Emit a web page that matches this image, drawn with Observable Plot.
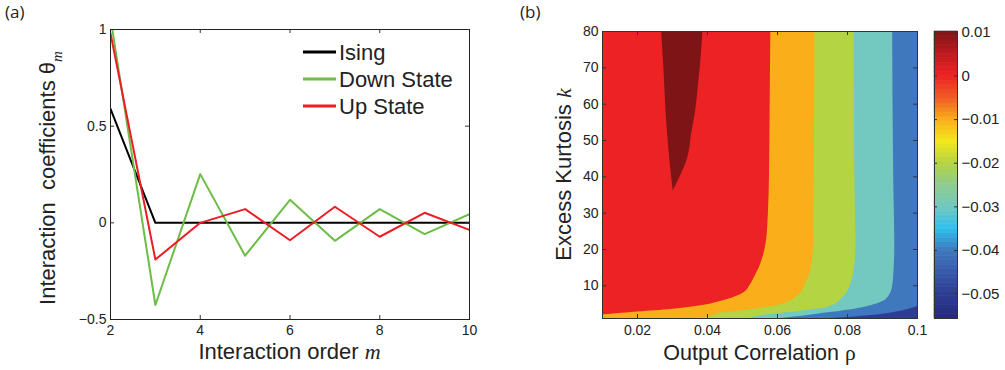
<!DOCTYPE html>
<html><head><meta charset="utf-8">
<script src="https://cdn.jsdelivr.net/npm/d3@7"></script>
<script src="https://cdn.jsdelivr.net/npm/@observablehq/plot@0.6"></script>
<style>
body{margin:0;background:#fff;}
#root{position:relative;width:1005px;height:370px;overflow:hidden;font-family:"Liberation Sans",Arial,sans-serif;background:#fff;}
.panel{position:absolute;top:0;}
.tag{position:absolute;top:0px;font-size:17px;color:#222;font-family:"Open Sans","Liberation Sans",sans-serif;}
</style></head><body>
<div id="root">
 <div class="tag" style="left:5px">(a)</div>
 <div class="tag" style="left:520px">(b)</div>
 <div id="pa" class="panel" style="left:0"></div>
 <div id="pb" class="panel" style="left:520px"></div>
 <div id="pc" class="panel" style="left:925px"></div>
</div>
<script>
// ---------- Panel (a) data ----------
const orders = [2, 3, 4, 5, 6, 7, 8, 9, 10];
const ising = [0.59, 0, 0, 0, 0, 0, 0, 0, 0];
const downState = [1.06, -0.425, 0.252, -0.17, 0.119, -0.093, 0.071, -0.058, 0.045];
const upState = [0.98, -0.19, 0, 0.071, -0.09, 0.083, -0.072, 0.052, -0.037];
const seriesNames = ["Ising", "Down State", "Up State"];
const xTicksA = [2, 4, 6, 8, 10];
const yTicksA = [-0.5, 0, 0.5, 1];

// ---------- Panel (b) data ----------
const rhoDomain = [0.01, 0.1];
const kDomain = [1, 80];
const rhoTicks = [0.02, 0.04, 0.06, 0.08, 0.1];
const kTicks = [10, 20, 30, 40, 50, 60, 70, 80];
// contour boundaries (rho at each kurtosis value k)
const bound1K   = [80, 60, 40, 30, 22, 18, 15, 12.5, 10, 8, 6.2, 4.5, 3.4, 2.7, 2.0, 1.95, 1];
const bound1Rho = [0.0581, 0.0579, 0.0577, 0.0574, 0.0568, 0.0559, 0.0548, 0.0535, 0.0521, 0.0503, 0.0457, 0.0381, 0.0286, 0.019, 0.0105, 0.01, 0.01];
const bound2K   = [80, 40, 21, 14.4, 10.7, 7.1, 4.8, 3.4, 2.3, 1.4, 1];
const bound2Rho = [0.0707, 0.0705, 0.0703, 0.0695, 0.0681, 0.0657, 0.061, 0.0524, 0.0429, 0.0405, 0.037];
const bound3K   = [80, 40, 21, 14.4, 10.7, 7.1, 4.0, 3.0, 2.0, 1];
const bound3Rho = [0.0819, 0.0821, 0.0824, 0.0819, 0.081, 0.079, 0.0743, 0.0667, 0.0571, 0.052];
const bound4K   = [80, 40, 21, 14.4, 9.8, 6.6, 4.8, 3.4, 2.2, 1.4, 1];
const bound4Rho = [0.0929, 0.0932, 0.0935, 0.0933, 0.0929, 0.0914, 0.0876, 0.081, 0.0714, 0.0648, 0.061];
const bound5K   = [4.3, 3.0, 1.9, 1.3, 1];
const bound5Rho = [0.1, 0.0952, 0.0876, 0.08, 0.075];
const peakK        = [80, 72, 65, 58.7, 52, 45, 40.4, 36.1];
const peakRhoLeft  = [0.0269, 0.0274, 0.0278, 0.0281, 0.0286, 0.0292, 0.0297, 0.0302];
const peakRhoRight = [0.0387, 0.0381, 0.0374, 0.0367, 0.0355, 0.0343, 0.0324, 0.0302];
const bandLevels = [0, -0.01, -0.02, -0.03, -0.04, -0.05];
const peakLevel = 0.01;

// ---------- Colorbar ----------
const cbDomain = [-0.0556, 0.0102];
const cbTicks = [0.01, 0, -0.01, -0.02, -0.03, -0.04, -0.05];
const cbStops  = [-0.0556, -0.05, -0.045, -0.04, -0.035, -0.03, -0.025, -0.02, -0.015, -0.01, -0.005, 0, 0.005, 0.01, 0.0102];
const cbColors = ["#27287a", "#2e3d92", "#385aa8", "#3f78bd", "#2ec0ee", "#73c8c0", "#8ecb8f", "#b5d443", "#f3e71b", "#f9ae1a", "#f15a24", "#ed2224", "#c01a1f", "#7f1416", "#7a1214"];

const fmt = d => (d < 0 ? "\u2212" : "") + String(Math.abs(d));
const FONT = "Liberation Sans, Arial, sans-serif";
const baseStyle = {fontFamily: FONT, fontSize: "14px", color: "#222", background: "transparent", overflow: "visible"};
const TICK = 4;
const colorOpts = {type: "linear", domain: cbStops, range: cbColors};

// ================= Panel (a) =================
{
  const W = 480, H = 370, ml = 110, mr = 11, mt = 29, mb = 51;
  const pw = W - ml - mr, ph = H - mt - mb;
  const lineColors = ["#000000", "#6cbd45", "#ec1c24"];
  const seriesVals = [ising, downState, upState];
  const chart = Plot.plot({
    width: W, height: H, marginLeft: ml, marginRight: mr, marginTop: mt, marginBottom: mb,
    style: baseStyle,
    x: {domain: [2, 10]},
    y: {domain: [-0.5, 1]},
    marks: [
      ...seriesVals.map((vals, i) => Plot.line(orders, {x: orders, y: vals, stroke: lineColors[i], strokeWidth: 2, clip: true})),
      Plot.ruleX(xTicksA, {insetTop: ph - TICK, stroke: "#333"}),
      Plot.ruleX(xTicksA, {insetBottom: ph - TICK, stroke: "#333"}),
      Plot.ruleY(yTicksA, {insetRight: pw - TICK, stroke: "#333"}),
      Plot.ruleY(yTicksA, {insetLeft: pw - TICK, stroke: "#333"}),
      Plot.axisX({ticks: xTicksA, tickFormat: fmt, tickSize: 0, tickPadding: 6, label: null, fontSize: 14}),
      Plot.axisY({ticks: yTicksA, tickFormat: fmt, tickSize: 0, tickPadding: 4, label: null, fontSize: 14}),
      Plot.frame({stroke: "#222"})
    ]
  });
  document.getElementById("pa").appendChild(chart);
  const svg = d3.select(chart);
  const xl = svg.append("text").attr("x", ml + pw / 2).attr("y", 359).attr("text-anchor", "middle")
    .attr("font-size", 22).attr("fill", "#222").attr("font-family", FONT);
  xl.append("tspan").text("Interaction order ");
  xl.append("tspan").attr("font-family", "Liberation Serif, serif").attr("font-style", "italic").text("m");
  const yl = svg.append("text").attr("transform", `translate(55,${mt + ph / 2 + 4}) rotate(-90)`).attr("text-anchor", "middle")
    .attr("font-size", 22).attr("fill", "#222").attr("font-family", FONT);
  yl.append("tspan").text("Interaction\u00A0 coefficients \u03B8");
  yl.append("tspan").attr("font-family", "Liberation Serif, serif").attr("font-style", "italic").attr("font-size", 15).attr("dy", 7).text("m");
  const rows = [52, 79, 106];
  seriesNames.forEach((name, i) => {
    svg.append("line").attr("x1", 303).attr("x2", 336).attr("y1", rows[i]).attr("y2", rows[i])
      .attr("stroke", lineColors[i]).attr("stroke-width", 3);
    svg.append("text").attr("x", 339).attr("y", rows[i] + 8).attr("text-anchor", "start").attr("font-size", 22).attr("fill", "#222")
      .attr("font-family", FONT).text(name);
  });
}

// ================= Panel (b) =================
{
  const W = 415, H = 370, ml = 82, mr = 18, mt = 31, mb = 52;
  const pw = W - ml - mr, ph = H - mt - mb;
  const bounds = [[bound1K, bound1Rho], [bound2K, bound2Rho], [bound3K, bound3Rho], [bound4K, bound4Rho], [bound5K, bound5Rho]];
  const chart = Plot.plot({
    width: W, height: H, marginLeft: ml, marginRight: mr, marginTop: mt, marginBottom: mb,
    style: baseStyle,
    x: {domain: rhoDomain},
    y: {domain: kDomain},
    color: colorOpts,
    marks: [
      Plot.areaX(kDomain, {y: kDomain, x1: rhoDomain[0], x2: rhoDomain[1], fill: bandLevels[0]}),
      ...bounds.map(([ks, rhos], i) => Plot.areaX(ks, {y: ks, x1: rhos, x2: rhoDomain[1], fill: bandLevels[i + 1], curve: "monotone-y"})),
      Plot.areaX(peakK, {y: peakK, x1: peakRhoLeft, x2: peakRhoRight, fill: peakLevel, curve: "monotone-y"}),
      Plot.ruleX(rhoTicks, {insetTop: ph - TICK, stroke: "#333"}),
      Plot.ruleX(rhoTicks, {insetBottom: ph - TICK, stroke: "#333"}),
      Plot.ruleY(kTicks, {insetRight: pw - TICK, stroke: "#333"}),
      Plot.ruleY(kTicks, {insetLeft: pw - TICK, stroke: "#333"}),
      Plot.axisX({ticks: rhoTicks, tickFormat: fmt, tickSize: 0, tickPadding: 7, label: null, fontSize: 14}),
      Plot.axisY({ticks: kTicks, tickFormat: fmt, tickSize: 0, tickPadding: 4, label: null, fontSize: 14}),
      Plot.frame({stroke: "#333"})
    ]
  });
  document.getElementById("pb").appendChild(chart);
  const svg = d3.select(chart);
  const xl = svg.append("text").attr("x", ml + pw / 2).attr("y", 360).attr("text-anchor", "middle")
    .attr("font-size", 21.5).attr("fill", "#222").attr("font-family", FONT);
  xl.append("tspan").text("Output Correlation ");
  xl.append("tspan").attr("font-family", "Liberation Serif, serif").text("\u03C1");
  const yl = svg.append("text").attr("transform", `translate(51,${mt + ph / 2}) rotate(-90)`).attr("text-anchor", "middle")
    .attr("font-size", 22).attr("fill", "#222").attr("font-family", FONT);
  yl.append("tspan").text("Excess Kurtosis ");
  yl.append("tspan").attr("font-family", "Liberation Serif, serif").attr("font-style", "italic").text("k");
}

// ================= Colorbar =================
{
  const W = 80, H = 370, ml = 9, mr = 48, mt = 31, mb = 52;
  const pw = W - ml - mr;
  const n = 64, step = (cbDomain[1] - cbDomain[0]) / n;
  const bands = d3.range(n).map(i => ({y1: cbDomain[0] + i * step, y2: cbDomain[0] + (i + 1) * step, v: cbDomain[0] + (i + 0.5) * step}));
  const chart = Plot.plot({
    width: W, height: H, marginLeft: ml, marginRight: mr, marginTop: mt, marginBottom: mb,
    style: baseStyle,
    x: {domain: [0, 1], axis: null},
    y: {domain: cbDomain},
    color: colorOpts,
    marks: [
      Plot.rect(bands, {x1: 0, x2: 1, y1: "y1", y2: "y2", fill: "v", stroke: "v", strokeWidth: 0.6}),
      Plot.ruleY(cbTicks, {insetRight: pw - 3, stroke: "#333"}),
      Plot.ruleY(cbTicks, {insetLeft: pw - 3, stroke: "#333"}),
      Plot.axisY({anchor: "right", ticks: cbTicks, tickFormat: fmt, tickSize: 0, tickPadding: 4, label: null, fontSize: 15}),
      Plot.frame({stroke: "#333"})
    ]
  });
  document.getElementById("pc").appendChild(chart);
}
</script>
</body></html>
